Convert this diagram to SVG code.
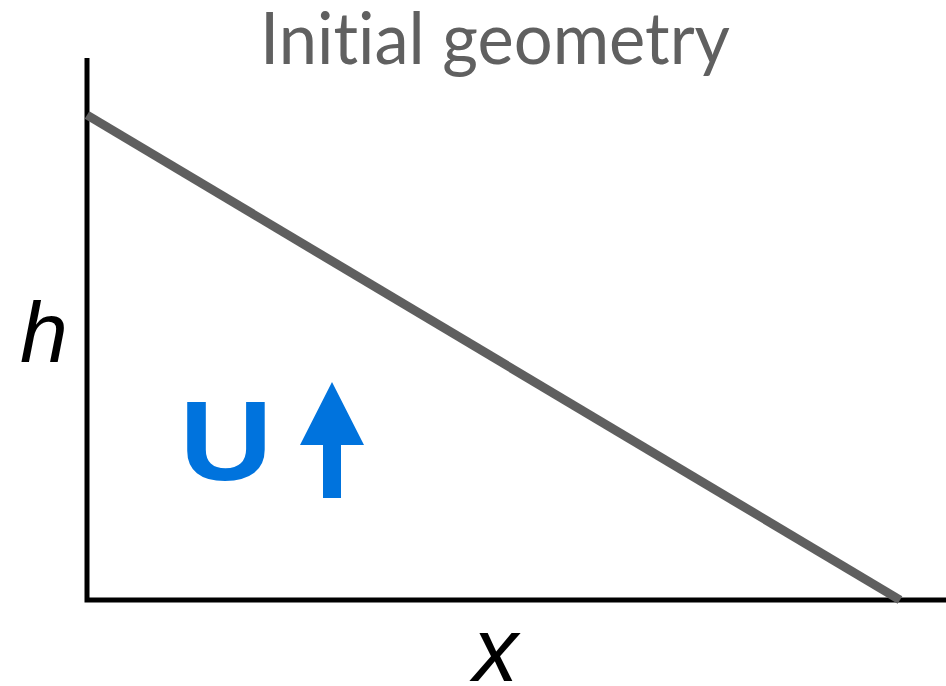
<svg xmlns="http://www.w3.org/2000/svg" width="946" height="686" viewBox="0 0 946 686">
<style>
.axis{stroke:#000;stroke-width:5;fill:none}
.lbl{font-family:"Liberation Sans",Arial,sans-serif;font-style:italic;fill:#000}
</style>
<rect width="946" height="686" fill="#fff"/>
<text x="495" y="64" text-anchor="middle" font-family="Lato, 'Open Sans', sans-serif" font-size="71" fill="#606060" style="font-variant-ligatures:none" textLength="470" lengthAdjust="spacingAndGlyphs">Initial geometry</text>
<g id="axes">
<path class="axis" d="M87,58 V600 H946"/>
</g>
<g id="surface">
<line x1="87" y1="115" x2="900" y2="600" stroke="#5f5f5f" stroke-width="9"/>
</g>
<text class="lbl" x="20" y="362" font-size="86">h</text>
<text class="lbl" x="473" y="681" font-size="90">x</text>
<g id="velocity" fill="#0073dd">
<text x="0" y="0" transform="translate(226,480) scale(1.14,1)" text-anchor="middle" font-family="'Liberation Sans',Arial,sans-serif" font-weight="bold" font-size="113">U</text>
<polygon points="332,382 364,445 341,445 341,498 323,498 323,445 300,445"/>
</g>
</svg>
